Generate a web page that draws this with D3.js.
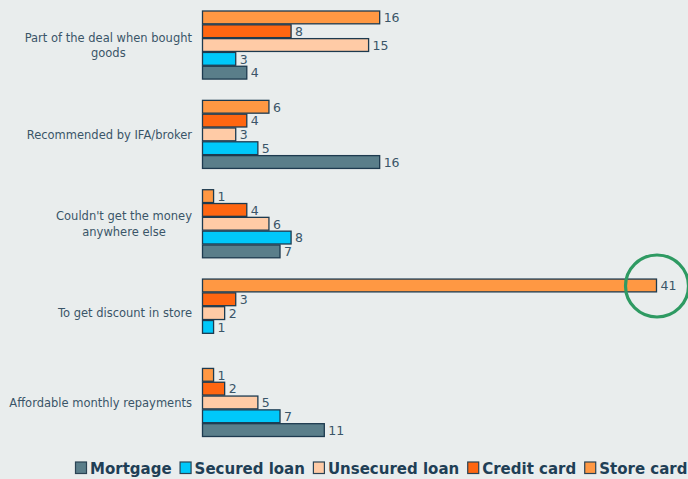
<!DOCTYPE html>
<html>
<head>
<meta charset="utf-8">
<script src="https://cdn.jsdelivr.net/npm/d3@7"></script>
<style>
  html, body { margin: 0; padding: 0; background: #e9eded; }
  svg { display: block; }
</style>
</head>
<body>
<svg id="chart" width="688" height="479"></svg>
<script>
// Reasons for choosing each type of credit (counts)
const categories = [
  ["Part of the deal when bought", "goods"],
  ["Recommended by IFA/broker"],
  ["Couldn't get the money", "anywhere else"],
  ["To get discount in store"],
  ["Affordable monthly repayments"]
];
const seriesNames = ["Mortgage", "Secured loan", "Unsecured loan", "Credit card", "Store card"];
const mortgage     = [4, 16, 7, null, 11];
const securedLoan  = [3, 5, 8, 1, 7];
const unsecured    = [15, 3, 6, 2, 5];
const creditCard   = [8, 4, 4, 3, 2];
const storeCard    = [16, 6, 1, 41, 1];
const seriesValues = [mortgage, securedLoan, unsecured, creditCard, storeCard];
const colors = ["#5a7e8a", "#00c8fa", "#ffcba6", "#ff6611", "#ff9843"];
const highlight = { category: 3, series: 4 };

const svg = d3.select("#chart");
const stroke = "#1d3a4f";
const textCol = "#3a5568";

const catIdx = d3.range(categories.length);
const y = d3.scaleBand().domain(catIdx).range([10.5, 437]).paddingInner(0.227);
// bars stacked top to bottom: Store card first, Mortgage last
const inner = d3.scaleBand().domain([4, 3, 2, 1, 0]).range([0, y.bandwidth()]);
const x = d3.scaleLinear().domain([0, 41]).range([202.5, 656.5]);

const groups = svg.selectAll("g.grp").data(catIdx).join("g")
  .attr("class", "grp")
  .attr("transform", i => `translate(0,${y(i)})`);

groups.each(function(ci) {
  const g = d3.select(this);
  const rows = seriesNames.map((n, si) => ({ si, v: seriesValues[si][ci] }))
    .filter(d => d.v != null);
  g.selectAll("rect").data(rows).join("rect")
    .attr("x", x(0))
    .attr("y", d => inner(d.si) + 0.5)
    .attr("width", d => x(d.v) - x(0))
    .attr("height", inner.bandwidth() - 1)
    .attr("fill", d => colors[d.si])
    .attr("stroke", stroke)
    .attr("stroke-width", 1.3);
  g.selectAll("text.val").data(rows).join("text")
    .attr("class", "val")
    .attr("x", d => x(d.v) + 4)
    .attr("y", d => inner(d.si) + inner.bandwidth() / 2 + 4.8)
    .attr("font-family", "DejaVu Sans, sans-serif")
    .attr("font-size", 12.5)
    .attr("fill", textCol)
    .text(d => d.v);
});

// category labels, multi-line labels centred under their first line
const labelRight = 192;
catIdx.forEach(ci => {
  const lines = categories[ci];
  const cy = y(ci) + y.bandwidth() / 2;
  const lh = 15.5;
  const t = svg.append("text")
    .attr("font-family", "DejaVu Sans, sans-serif")
    .attr("font-size", 11.5)
    .attr("fill", textCol)
    .attr("text-anchor", "middle");
  const spans = lines.map((ln, k) => t.append("tspan")
    .attr("y", cy + (k - (lines.length - 1) / 2) * lh + 4.3)
    .text(ln));
  const w = spans[0].node().getComputedTextLength();
  spans.forEach(s => s.attr("x", labelRight - w / 2));
});

// highlight ring around the standout value
const hv = seriesValues[highlight.series][highlight.category];
svg.append("ellipse")
  .attr("cx", x(hv) + 0.5)
  .attr("cy", y(highlight.category) + inner(highlight.series) + inner.bandwidth() / 2 + 0.5)
  .attr("rx", 31.5)
  .attr("ry", 31)
  .attr("fill", "none")
  .attr("stroke", "#2e9a62")
  .attr("stroke-width", 3.2);

// legend
const legend = svg.append("g").attr("transform", "translate(75,468)");
let lx = 0;
seriesNames.forEach((name, si) => {
  legend.append("rect")
    .attr("x", lx + 0.5).attr("y", -6)
    .attr("width", 11).attr("height", 11.5)
    .attr("fill", colors[si])
    .attr("stroke", "#2a4354")
    .attr("stroke-width", 1.2);
  const t = legend.append("text")
    .attr("x", lx + 15)
    .attr("y", 5.8)
    .attr("font-family", "DejaVu Sans, sans-serif")
    .attr("font-weight", "bold")
    .attr("font-size", 15)
    .attr("fill", "#1f3f56")
    .text(name);
  lx += 15 + t.node().getComputedTextLength() + 8;
});
</script>
</body>
</html>
